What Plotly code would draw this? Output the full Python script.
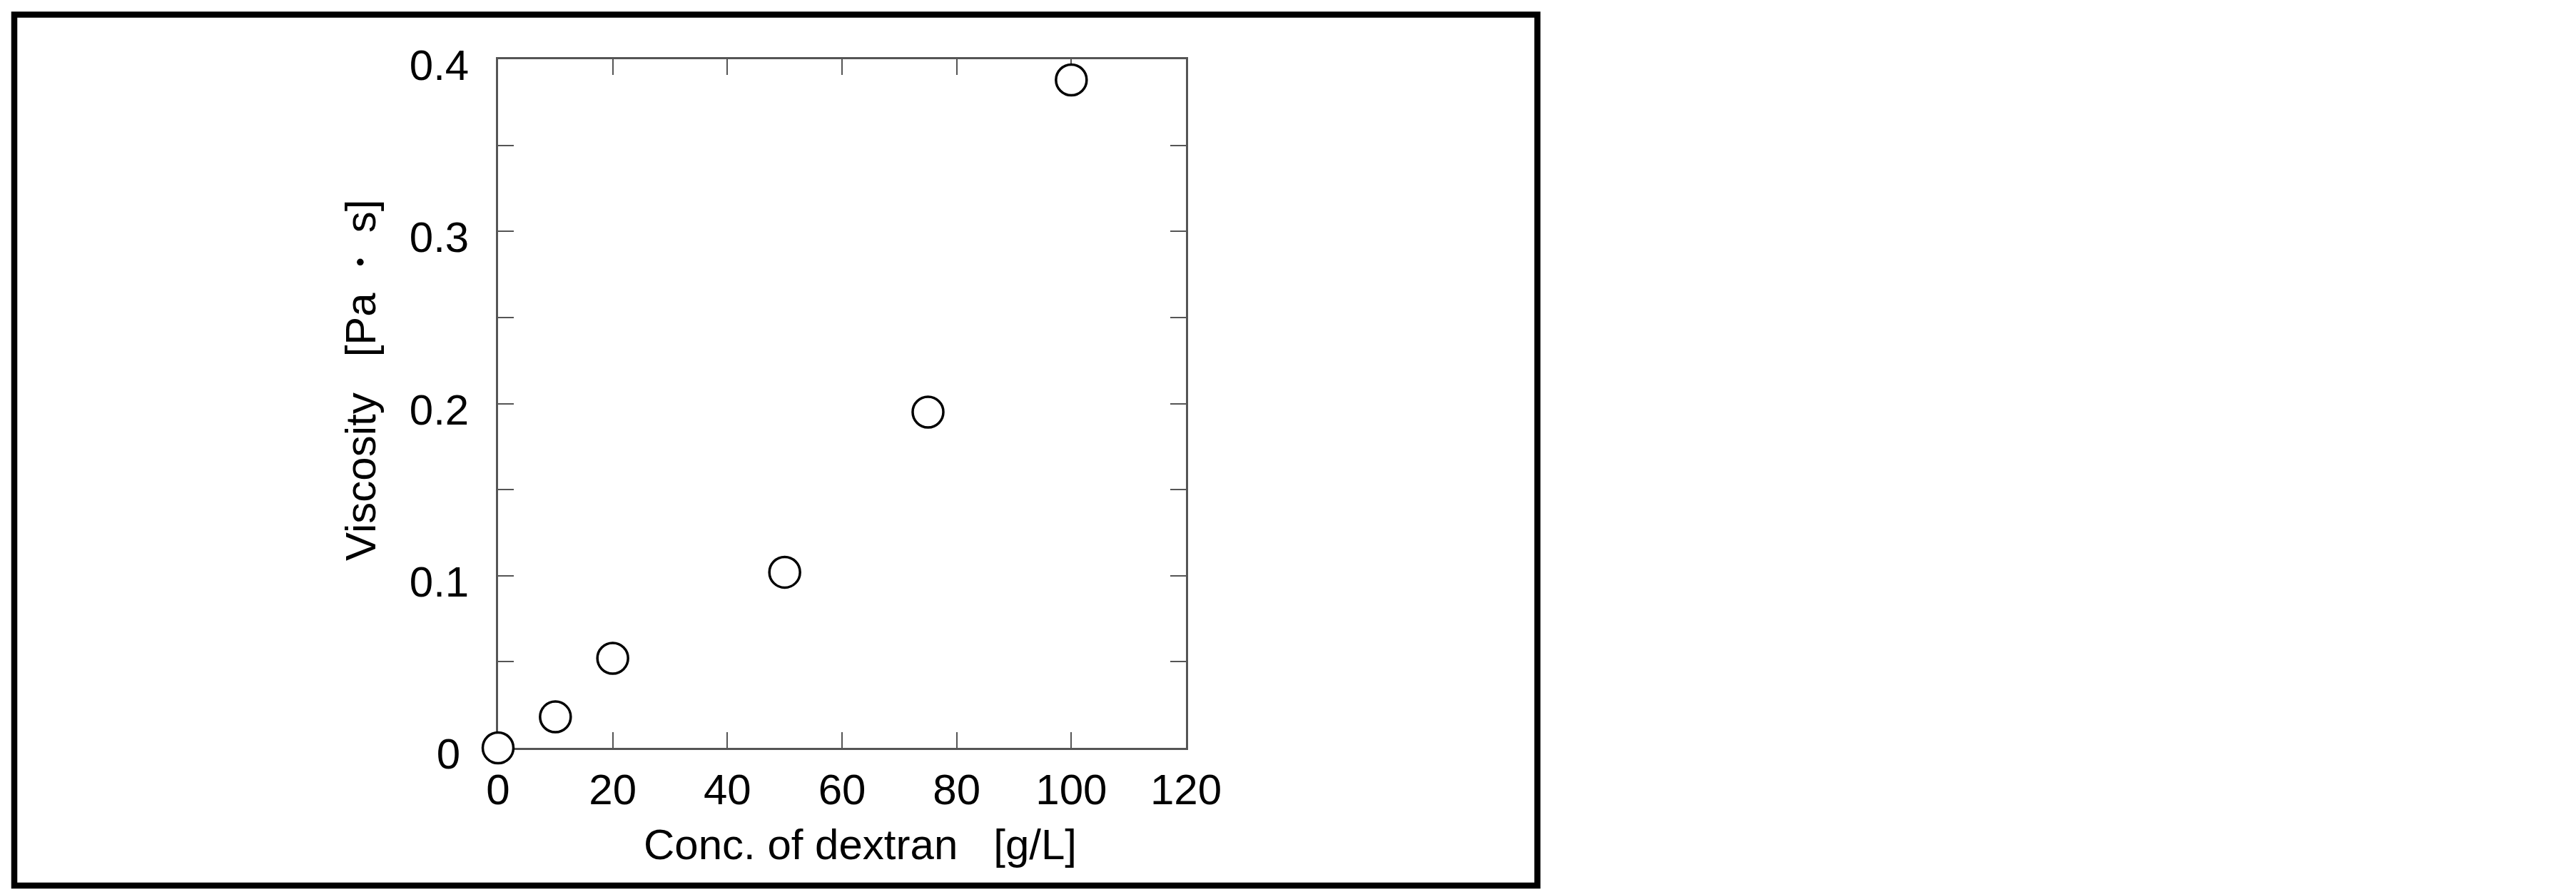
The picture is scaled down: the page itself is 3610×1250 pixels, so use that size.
import plotly.graph_objects as go

# dextran concentration [g/L] and viscosity [Pa s]
conc = [0, 10, 20, 50, 75, 100]
viscosity = [0.0, 0.018, 0.052, 0.102, 0.195, 0.388]

x_ticks = [0, 20, 40, 60, 80, 100, 120]
x_ticktext = ["0", "20", "40", "60", "80", "100", "120"]
y_ticks = [0, 0.05, 0.1, 0.15, 0.2, 0.25, 0.3, 0.35, 0.4]
y_ticktext = ["0\u2009", "", "0.1", "", "0.2", "", "0.3", "", "0.4"]

x_title = "Conc. of dextran\u00a0\u00a0\u00a0[g/L]"
y_title = "Viscosity\u00a0\u00a0\u00a0[Pa\u2009\u30fb\u2009s]"

W, H = 3610, 1250
# plot area in pixels (the page body adds an 8px offset)
left, right, top, bottom = 690, 1654, 75, 1040
pw, ph = right - left, bottom - top

font = "Liberation Sans, Arial, sans-serif"

fig = go.Figure()
fig.add_trace(go.Scatter(
    x=conc,
    y=viscosity,
    mode="markers",
    cliponaxis=False,
    marker=dict(symbol="circle", size=43, color="white",
                line=dict(color="black", width=3.5)),
    showlegend=False,
))

axis_style = dict(
    showline=True,
    linecolor="#555555",
    linewidth=2.5,
    mirror="ticks",
    ticks="inside",
    ticklen=22,
    tickwidth=2,
    tickcolor="#555555",
    showgrid=False,
    zeroline=False,
    layer="below traces",
    tickfont=dict(family=font, size=60, color="black"),
)

fig.update_xaxes(
    range=[0, 120],
    tickmode="array",
    tickvals=x_ticks,
    ticktext=x_ticktext,
    ticklabelstandoff=4,
    **axis_style,
)
fig.update_yaxes(
    range=[0, 0.4],
    tickmode="array",
    tickvals=y_ticks,
    ticktext=y_ticktext,
    ticklabelstandoff=26,
    ticklabelshift=8,
    **axis_style,
)


def px_x(p):
    return (p - left) / pw


def px_y(p):
    return (bottom - p) / ph


# axis titles placed as annotations
fig.add_annotation(text=x_title, xref="paper", yref="paper",
                   x=px_x(1197), y=px_y(1176), xanchor="center", yanchor="middle",
                   showarrow=False, font=dict(family=font, size=60, color="black"))
fig.add_annotation(text=y_title, xref="paper", yref="paper", textangle=-90,
                   x=px_x(497), y=px_y(525), xanchor="center", yanchor="middle",
                   showarrow=False, font=dict(family=font, size=60, color="black"))

# thick black frame round the figure
fig.add_shape(type="rect", xref="paper", yref="paper",
              x0=px_x(12), x1=px_x(2146.5), y0=px_y(1233), y1=px_y(12.5),
              line=dict(color="black", width=8.5), fillcolor="rgba(0,0,0,0)")

fig.update_layout(
    width=W,
    height=H,
    margin=dict(l=left, r=W - right, t=top, b=H - bottom, pad=0),
    paper_bgcolor="white",
    plot_bgcolor="white",
)

fig.write_html("out.html")
